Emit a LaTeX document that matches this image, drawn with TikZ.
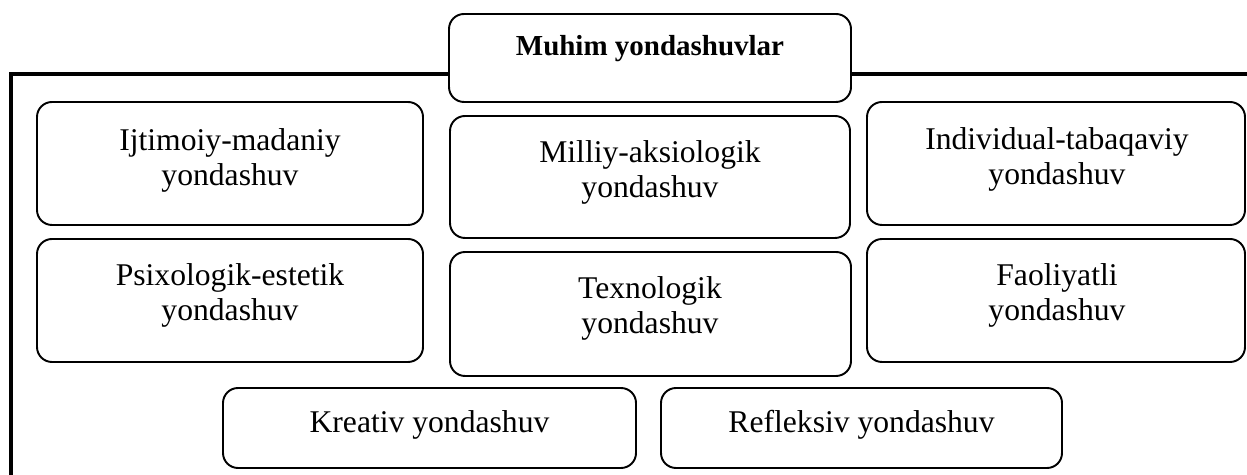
\documentclass[tikz,border=0pt]{standalone}
\usepackage{fontspec}
\setmainfont{Liberation Serif}
\usepackage{tikz}
\usetikzlibrary{positioning,calc}

\begin{document}
\begin{tikzpicture}[x=0.02cm,y=-0.02cm,
		card/.style={draw,line width=1.1pt,rounded corners=0.3cm,inner sep=0pt},
		txt/.style={align=center,inner sep=0pt,font=\fontsize{18}{20}\selectfont},
		frame/.style={line width=2.3pt}]
					\useasboundingbox (0,0) rectangle (1247,475);
					
					\node (title) at (650,58) [card,minimum width=402*0.02cm,minimum height=88*0.02cm] {};
					\node (titletext) at (650,49) [inner sep=0pt,font=\fontsize{16.5}{20}\selectfont\bfseries] {Muhim yondashuvlar};
					
					\node (ijt) at (230,163.5) [card,minimum width=386*0.02cm,minimum height=123*0.02cm] {};
					\node (mil) at (650,177) [card,minimum width=400*0.02cm,minimum height=122*0.02cm] {};
					\node (ind) at (1056,163.5) [card,minimum width=378*0.02cm,minimum height=123*0.02cm] {};
					\node (psi) at (230,300.5) [card,minimum width=386*0.02cm,minimum height=123*0.02cm] {};
					\node (tex) at (650.5,314) [card,minimum width=401*0.02cm,minimum height=124*0.02cm] {};
					\node (fao) at (1056,300.5) [card,minimum width=378*0.02cm,minimum height=123*0.02cm] {};
					\node (kre) at (429.5,428) [card,minimum width=413*0.02cm,minimum height=80*0.02cm] {};
					\node (ref) at (861.5,428) [card,minimum width=401*0.02cm,minimum height=80*0.02cm] {};
					
					\node (ijttext) at (230,160.2) [txt] {Ijtimoiy-madaniy\\yondashuv};
					\node (miltext) at (650,172.2) [txt] {Milliy-aksiologik\\yondashuv};
					\node (indtext) at (1057,159.2) [txt] {Individual-tabaqaviy\\yondashuv};
					\node (psitext) at (230,295.2) [txt] {Psixologik-estetik\\yondashuv};
					\node (textext) at (650,308.2) [txt] {Texnologik\\yondashuv};
					\node (faotext) at (1057,295.2) [txt] {Faoliyatli\\yondashuv};
					\node (kretext) at (429.5,424.6) [txt] {Kreativ yondashuv};
					\node (reftext) at (861.5,424.6) [txt] {Refleksiv yondashuv};
					
					\coordinate (frametop) at (11,74);
					\coordinate (framebot) at (11,475);
					\coordinate (frameend) at (1247,74);
					
					\draw[frame] (framebot) -- (frametop) -- (frametop -| title.west);
					\draw[frame] (frameend -| title.east) -- (frameend);
				\end{tikzpicture}
\end{document}
